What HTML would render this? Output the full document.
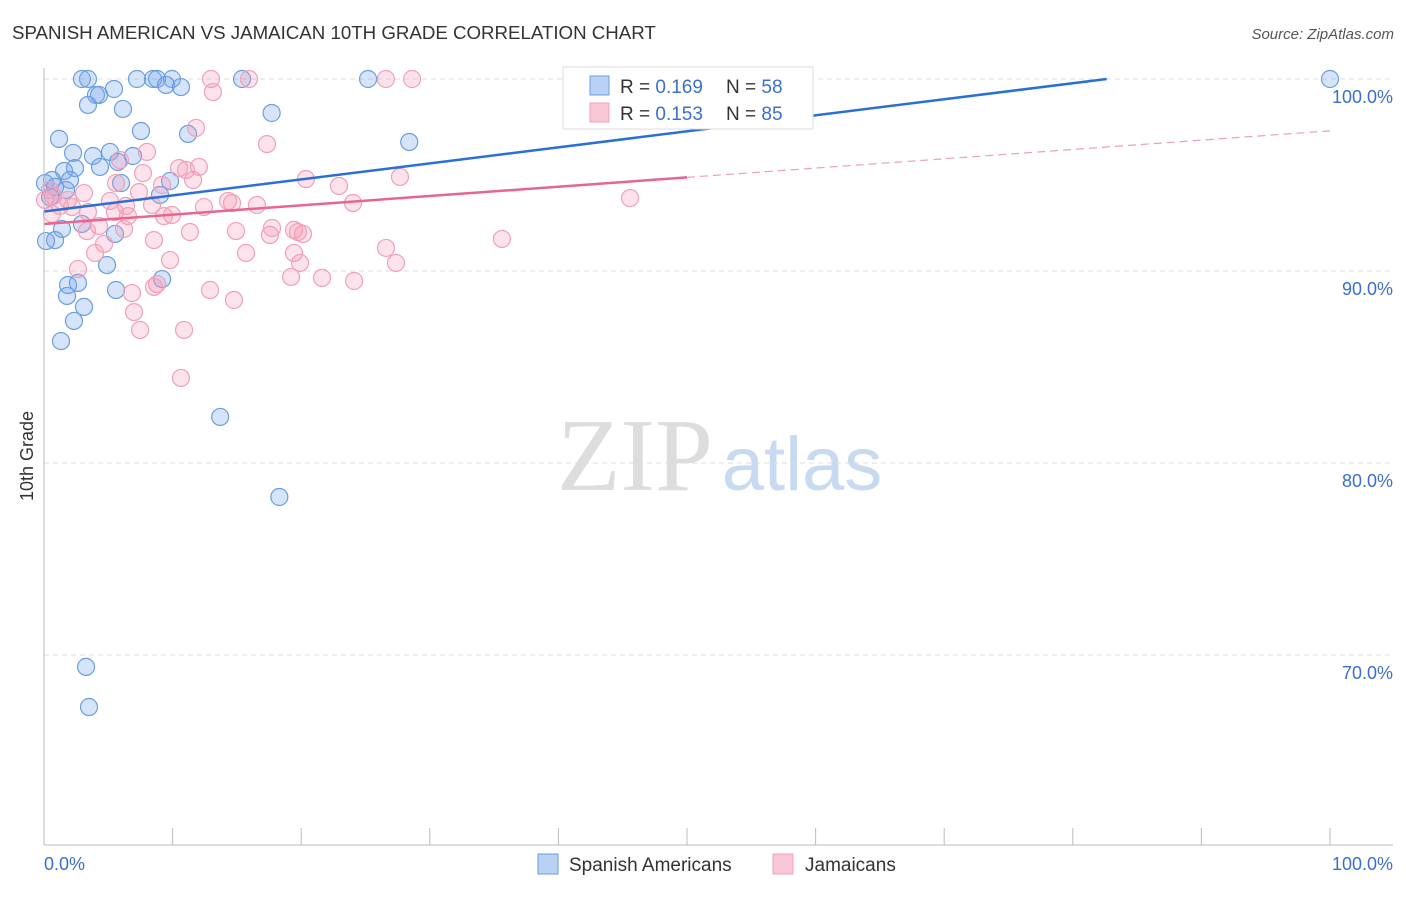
<!DOCTYPE html>
<html><head><meta charset="utf-8">
<style>
body{margin:0;background:#fff;font-family:"Liberation Sans",sans-serif;}
#wrap{position:relative;width:1406px;height:892px;}
</style></head>
<body>
<div id="wrap">
<svg id="svg" width="1406" height="892" xmlns="http://www.w3.org/2000/svg">
<text x="12" y="39" font-size="18.7" fill="#333">SPANISH AMERICAN VS JAMAICAN 10TH GRADE CORRELATION CHART</text>
<text x="1394" y="39" font-size="15" fill="#555" font-style="italic" text-anchor="end">Source: ZipAtlas.com</text>
<text x="33" y="456" font-size="18" fill="#333" transform="rotate(-90 33 456)" text-anchor="middle">10th Grade</text>
<g>
<text x="635" y="490" font-size="104" fill="#ddd" font-family="Liberation Serif,serif" text-anchor="middle">ZIP</text>
<text x="802" y="490" font-size="76" fill="#c8daf2" text-anchor="middle">atlas</text>
</g>
<g id="grid"></g>
<g id="pts"></g>
<g id="lines"></g>
<line x1="44" y1="68" x2="44" y2="845" stroke="#bbb"/>
<line x1="44" y1="845" x2="1393" y2="845" stroke="#bbb"/>
<g id="ticks"></g>
<text x="44" y="870" font-size="18" fill="#3a6fd0">0.0%</text>
<text x="1393" y="870" font-size="18" fill="#3a6fd0" text-anchor="end">100.0%</text>
<g>
<rect x="563" y="67" width="250" height="62" fill="#fff" stroke="#ddd"/>
<rect x="590" y="76" width="19" height="19" fill="#b9d1f5" stroke="#6a9ee0"/>
<text x="620" y="93" font-size="19" fill="#333">R = <tspan fill="#3a6fd0">0.169</tspan></text>
<text x="726" y="93" font-size="19" fill="#333">N = <tspan fill="#3a6fd0">58</tspan></text>
<rect x="590" y="103" width="19" height="19" fill="#f8c6d5" stroke="#f0a0b8"/>
<text x="620" y="120" font-size="19" fill="#333">R = <tspan fill="#3a6fd0">0.153</tspan></text>
<text x="726" y="120" font-size="19" fill="#333">N = <tspan fill="#3a6fd0">85</tspan></text>
</g>
<g>
<rect x="538" y="854" width="20" height="20" fill="#b9d1f5" stroke="#6a9ee0"/>
<text x="569" y="871" font-size="19" fill="#333">Spanish Americans</text>
</g>
<g>
<rect x="773" y="854" width="20" height="20" fill="#f8c6d5" stroke="#f0a0b8"/>
<text x="805" y="871" font-size="19" fill="#333">Jamaicans</text>
</g>
</svg>
</div>
<script>
const yTicks=[100,90,80,70];
const xTicks=[0,10,20,30,40,50,60,70,80,90,100];
const blueX=[2.95,3.42,7.23,8.48,8.79,9.95,15.4,25.2,100,9.49,10.65,5.44,4.04,4.28,3.42,6.14,17.7,7.54,11.2,1.17,28.4,2.26,5.13,3.81,6.92,5.75,4.35,2.41,1.56,0.62,2.02,0.08,5.99,9.8,0.86,1.71,9.02,0.47,2.95,1.4,5.52,0.86,0.16,4.9,9.18,1.87,2.64,1.79,3.11,5.6,2.33,1.32,13.7,18.3,3.27,3.5];
const blueY=[100,100,100,100,100,100,100,100,100,99.69,99.58,99.48,99.17,99.17,98.65,98.44,98.23,97.29,97.14,96.88,96.72,96.15,96.2,95.99,95.99,95.68,95.42,95.36,95.21,94.74,94.74,94.58,94.58,94.69,94.38,94.22,93.96,93.85,92.45,92.19,91.93,91.61,91.56,90.31,89.58,89.27,89.38,88.7,88.13,89.01,87.4,86.35,82.4,78.23,69.38,67.29];
const pinkX=[12.99,15.94,26.59,28.62,13.14,11.82,17.34,8.01,5.91,10.5,12.05,7.7,11.04,27.68,20.37,11.59,5.6,9.18,22.94,3.11,7.39,45.57,0.7,1.87,14.31,14.62,5.13,8.4,16.56,24.03,1.24,2.18,12.44,6.38,3.42,5.52,9.95,6.53,9.33,0.62,4.28,3.34,6.22,11.35,14.93,17.73,17.57,19.44,20.14,19.75,8.55,35.61,26.59,4.67,3.97,15.71,19.44,19.91,27.37,9.8,2.64,19.21,21.62,24.11,8.79,8.55,6.84,12.91,14.77,7.0,7.47,10.89,10.65,0.08,0.47];
const pinkY=[100,100,100,100,99.32,97.45,96.61,96.2,95.78,95.36,95.42,95.1,95.26,94.9,94.79,94.74,94.58,94.48,94.43,94.06,94.11,93.8,93.91,93.7,93.65,93.54,93.65,93.44,93.44,93.54,93.39,93.33,93.33,93.39,93.07,93.07,92.92,92.86,92.86,92.97,92.34,92.08,92.19,92.03,92.08,92.24,91.88,92.14,91.93,92.03,91.61,91.67,91.2,91.41,90.94,90.94,90.94,90.42,90.42,90.57,90.1,89.69,89.64,89.48,89.32,89.17,88.85,89.01,88.49,87.86,86.93,86.93,84.43,93.7,94.22];
const blueLine=[93.1,101.45];
const pinkLine=[92.45,97.3];
const pinkSolidEnd=50;
const NS="http://www.w3.org/2000/svg";
const sx=v=>44+v*12.86;
const sy=v=>79+(100-v)*19.2;
function mk(tag,attrs,parent){const e=document.createElementNS(NS,tag);for(const k in attrs)e.setAttribute(k,attrs[k]);document.getElementById(parent).appendChild(e);return e;}
yTicks.forEach(t=>{
 const l=mk('line',{x1:44,x2:1393,y1:sy(t),y2:sy(t),stroke:'#ddd','stroke-dasharray':'5,4'},'grid');
 
 
 const tx=mk('text',{x:1393,y:sy(t)+24,'font-size':18,fill:'#3a6fd0','text-anchor':'end'},'grid');
 tx.textContent=t.toFixed(1)+'%';
 
 
});
xTicks.forEach(t=>{
 const l=mk('line',{x1:sx(t),x2:sx(t),y1:828,y2:845,stroke:'#bbb'},'ticks');
 
 
});
blueX.forEach((x,i)=>{
 const c=mk('circle',{cx:sx(x),cy:sy(blueY[i]),r:8.5,fill:'rgba(120,165,235,0.3)',stroke:'#6a9ee0','stroke-width':1.2},'pts');
 
 
});
pinkX.forEach((x,i)=>{
 const c=mk('circle',{cx:sx(x),cy:sy(pinkY[i]),r:8.5,fill:'rgba(245,150,180,0.28)',stroke:'#f0a0b8','stroke-width':1.2},'pts');
 
 
});
const by=x=>blueLine[0]+(blueLine[1]-blueLine[0])*x/100;
const xEnd=Math.min(100,(100-blueLine[0])/(blueLine[1]-blueLine[0])*100);
const bl=mk('line',{x1:sx(0),y1:sy(by(0)),x2:sx(xEnd),y2:sy(by(xEnd)),stroke:'#2a6fd6','stroke-width':2.5},'lines');


const py=x=>pinkLine[0]+(pinkLine[1]-pinkLine[0])*x/100;
const pl=mk('line',{x1:sx(0),y1:sy(py(0)),x2:sx(pinkSolidEnd),y2:sy(py(pinkSolidEnd)),stroke:'#e8658e','stroke-width':2.5},'lines');


const pd=mk('line',{x1:sx(pinkSolidEnd),y1:sy(py(pinkSolidEnd)),x2:sx(100),y2:sy(py(100)),stroke:'#e8a0b8','stroke-width':1.2,'stroke-dasharray':'8,5'},'lines');


</script>
</body></html>
